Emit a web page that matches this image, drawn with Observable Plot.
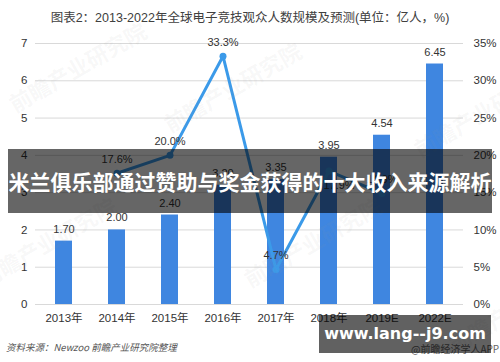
<!DOCTYPE html>
<html><head><meta charset="utf-8">
<script src="https://cdn.jsdelivr.net/npm/d3@7"></script>
<script src="https://cdn.jsdelivr.net/npm/@observablehq/plot@0.6"></script>
<style>
body{margin:0;background:#fff;}
#wrap{position:relative;width:500px;height:362px;overflow:hidden;font-family:"Liberation Sans","Noto Sans CJK SC",sans-serif;}
#chart{position:absolute;left:0;top:0;}
.title{position:absolute;left:0;top:7px;width:500px;text-align:center;font-size:12.5px;color:#404040;}
.wm{position:absolute;font-family:"Noto Sans CJK SC";font-weight:bold;color:rgba(150,150,150,0.07);transform:rotate(-30deg);white-space:nowrap;font-size:22px;}
.banner{position:absolute;left:8px;top:149px;width:484px;height:64px;background:rgba(0,0,0,0.6);color:#fff;font-family:"Noto Sans CJK SC";font-weight:bold;font-size:21px;line-height:64px;text-align:center;white-space:nowrap;}
.source{position:absolute;left:6px;top:340px;font-size:9.5px;font-style:italic;color:#555;font-family:"Noto Sans CJK SC";}
.app{position:absolute;left:411px;top:341px;font-size:10px;color:#666;font-family:"Noto Sans CJK SC";}
.url{position:absolute;left:319px;top:315px;width:172px;height:38px;background:rgba(0,0,0,0.62);color:#fff;font-family:"DejaVu Sans";font-weight:bold;font-size:16px;line-height:38px;text-align:center;white-space:nowrap;}
</style></head><body>
<div id="wrap">
 <div id="chart"></div>
 <div class="wm" style="left:0px;top:50px;">前瞻产业研究院</div>
 <div class="wm" style="left:155px;top:70px;">前瞻产业研究院</div>
 <div class="wm" style="left:405px;top:95px;">前瞻产业研究院</div>
 <div class="wm" style="left:-30px;top:225px;">前瞻产业研究院</div>
 <div class="wm" style="left:235px;top:225px;">前瞻产业研究院</div>
 <div class="wm" style="left:440px;top:290px;">前瞻产业研究院</div>
 <div class="title">图表2：2013-2022年全球电子竞技观众人数规模及预测(单位：亿人，%)</div>
 <div class="banner">米兰俱乐部通过赞助与奖金获得的十大收入来源解析</div>
 <div class="source">资料来源：Newzoo 前瞻产业研究院整理</div>
 <div class="app">@前瞻经济学人APP</div>
 <div class="url">www.lang--j9.com</div>
</div>
<script>
const years = ["2013年","2014年","2015年","2016年","2017年","2018年","2019E","2022E"];
const audience = [1.70, 2.00, 2.40, 3.20, 3.35, 3.95, 4.54, 6.45];
const growth = [null, 17.6, 20.0, 33.3, 4.7, 17.9, 14.9, null];
const leftTicks = [0, 1, 2, 3, 4, 5, 6, 7];
const rightTickLabels = ["0%", "5%", "10%", "15%", "20%", "25%", "30%", "35%"];
const labelBelow = ["2018年"];

const bars = years.map((y, i) => ({year: y, v: audience[i]}));
const line = years.map((y, i) => ({year: y, g: growth[i]})).filter(d => d.g != null);
const toLeft = g => g * 7 / 35;

const font = '"Liberation Sans","Noto Sans CJK SC",sans-serif';
const chart = Plot.plot({
  width: 500, height: 362,
  marginTop: 43, marginBottom: 58, marginLeft: 35, marginRight: 37,
  style: {fontFamily: font, fontSize: "11px", color: "#333", background: "transparent"},
  x: {domain: years, paddingInner: 0.68, paddingOuter: 0.34, label: null},
  y: {domain: [0, 7], label: null},
  marks: [
    Plot.ruleY(leftTicks, {stroke: "#d9d9d9", strokeWidth: 1}),
    Plot.barY(bars, {x: "year", y: "v", fill: "#3f86e0"}),
    Plot.text(bars, {x: "year", y: "v", text: d => d.v.toFixed(2), dy: -12, fill: "#333", fontSize: 11}),
    Plot.line(line, {x: "year", y: d => toLeft(d.g), stroke: "#3b9ae9", strokeWidth: 3}),
    Plot.dot(line, {x: "year", y: d => toLeft(d.g), r: 3.5, fill: "#3b9ae9"}),
    Plot.text(line.filter(d => !labelBelow.includes(d.year)), {x: "year", y: d => toLeft(d.g), text: d => d.g.toFixed(1) + "%", dy: -14, fill: "#333", fontSize: 11}),
    Plot.text(line.filter(d => labelBelow.includes(d.year)), {x: "year", y: d => toLeft(d.g), text: d => d.g.toFixed(1) + "%", dy: 14, dx: 10, fill: "#333", fontSize: 11}),
    Plot.axisY(leftTicks, {anchor: "left", tickSize: 0, tickPadding: 8, label: null, fill: "#333", fontSize: 11.5}),
    Plot.axisY(leftTicks, {anchor: "right", tickSize: 0, tickPadding: 10, label: null, tickFormat: (d, i) => rightTickLabels[i], fill: "#333", fontSize: 11.5}),
    Plot.axisX({tickSize: 0, tickPadding: 9, label: null, fill: "#333", fontSize: 11.5})
  ]
});
document.getElementById("chart").appendChild(chart);
</script>
</body></html>
